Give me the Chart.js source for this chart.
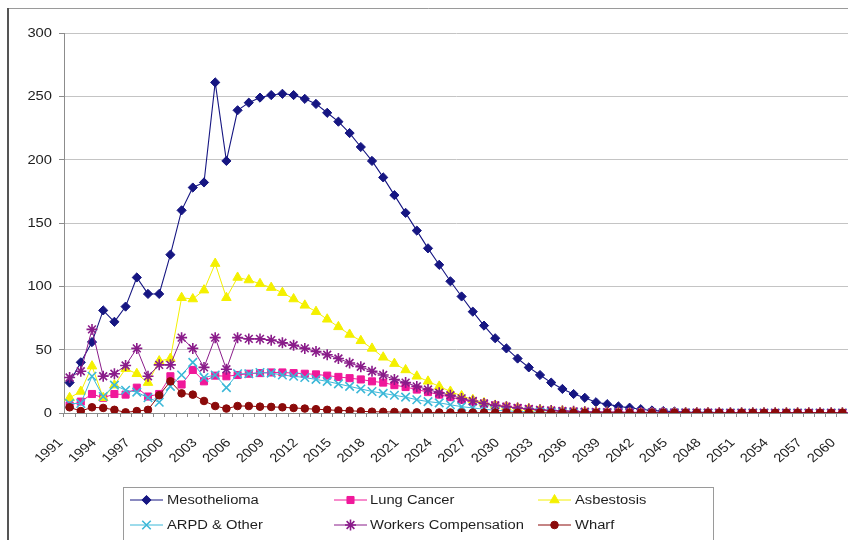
<!DOCTYPE html>
<html>
<head>
<meta charset="utf-8">
<script src="https://cdn.jsdelivr.net/npm/chart.js@4.4.1/dist/chart.umd.min.js"></script>
<style>
  html, body { margin: 0; padding: 0; background: #ffffff; overflow: hidden; }
  #wrap { position: relative; width: 848px; height: 540px; }
</style>
</head>
<body>
<div id="wrap"><canvas id="chart" width="848" height="540"></canvas></div>
<script>
// Projected claims per year, 1991 - 2060
const years = [
  '1991','1992','1993','1994','1995','1996','1997','1998','1999','2000',
  '2001','2002','2003','2004','2005','2006','2007','2008','2009','2010',
  '2011','2012','2013','2014','2015','2016','2017','2018','2019','2020',
  '2021','2022','2023','2024','2025','2026','2027','2028','2029','2030',
  '2031','2032','2033','2034','2035','2036','2037','2038','2039','2040',
  '2041','2042','2043','2044','2045','2046','2047','2048','2049','2050',
  '2051','2052','2053','2054','2055','2056','2057','2058','2059','2060'
];

const mesothelioma = [
  24, 40, 56, 81, 72, 84, 107, 94, 94, 125,
  160, 178, 182, 261, 199, 239, 245, 249, 251, 252,
  251, 248, 244, 237, 230, 221, 210, 199, 186, 172,
  158, 144, 130, 117, 104, 92, 80, 69, 59, 51,
  43, 36, 30, 24, 19, 15, 12, 8.5, 7, 5.2,
  4.2, 3, 2, 1.5, 1.2, 0.8, 0.6, 0.5, 0.4, 0.3,
  0.2, 0.2, 0.1, 0.1, 0.1, 0.1, 0, 0, 0, 0
];

const lungCancer = [
  6, 9, 15, 12, 15, 14.5, 20, 13, 15, 29,
  22.5, 34, 25, 29.5, 29, 30, 31, 31.5, 32, 32,
  31.5, 31, 30.5, 29.5, 28.5, 27.5, 26.5, 25, 24, 22,
  20.5, 18.5, 16.5, 14.5, 12.5, 10.5, 9, 7.5, 6, 5,
  3.8, 3, 2.2, 1.8, 1.4, 1.1, 0.9, 0.7, 0.6, 0.5,
  0.4, 0.4, 0.3, 0.3, 0.3, 0.2, 0.2, 0.2, 0.2, 0.1,
  0.1, 0.1, 0.1, 0.1, 0.1, 0.1, 0.1, 0.1, 0.1, 0.1
];

const asbestosis = [
  12, 17, 37, 12, 22, 35, 31, 24, 41, 43,
  91, 90, 97, 118, 91, 107, 105, 102, 99, 95,
  90, 85, 80, 74, 68, 62, 57, 51, 44, 39,
  34, 29, 25, 21, 17, 13.5, 10.5, 8, 6, 5,
  4, 3.3, 2.6, 2, 1.6, 1.2, 1, 0.8, 0.6, 0.5,
  0.4, 0.4, 0.3, 0.3, 0.2, 0.2, 0.2, 0.2, 0.1, 0.1,
  0.1, 0.1, 0.1, 0.1, 0.1, 0.1, 0.1, 0.1, 0.1, 0.1
];

const arpdOther = [
  7.5, 7.5, 29, 13, 22, 18, 16.5, 12, 8.5, 21,
  30, 40, 28, 30, 20, 31, 31, 32, 31.5, 30,
  29, 28, 26.5, 25, 23, 21, 19, 17, 15.5, 14,
  12.5, 10.5, 9, 8, 6.5, 5, 4, 3, 2.2, 1.6,
  1.2, 0.9, 0.7, 0.5, 0.4, 0.3, 0.3, 0.2, 0.2, 0.2,
  0.1, 0.1, 0.1, 0.1, 0.1, 0.1, 0, 0, 0, 0,
  0, 0, 0, 0, 0, 0, 0, 0, 0, 0
];

const workersComp = [
  28, 33, 66, 29, 31, 37.5, 51, 29, 38, 38,
  59.5, 51, 36, 59.5, 34.5, 59.5, 58.5, 58.5, 57.5, 55.5,
  53.5, 51, 48.5, 46, 43, 39.5, 36.5, 33, 30, 26.5,
  24, 21, 18.5, 16, 14, 11.5, 9.5, 7.5, 6, 5,
  4, 3.2, 2.5, 2, 1.6, 1.3, 1, 0.8, 0.6, 0.5,
  0.4, 0.4, 0.3, 0.3, 0.2, 0.2, 0.2, 0.2, 0.1, 0.1,
  0.1, 0.1, 0.1, 0.1, 0.1, 0.1, 0.1, 0.1, 0.1, 0.1
];

const wharf = [
  4.5, 1.5, 4.5, 4, 2.5, 0.5, 1.5, 2.5, 14, 25,
  15.5, 14.5, 9.5, 5.5, 3.5, 5.5, 5.5, 5, 4.8, 4.5,
  4, 3.5, 3, 2.5, 2, 1.8, 1.3, 1, 0.9, 0.8,
  0.6, 0.5, 0.5, 0.4, 0.4, 0.4, 0.3, 0.3, 0.3, 0.3,
  0.2, 0.2, 0.2, 0.2, 0.2, 0.2, 0.1, 0.1, 0.1, 0.1,
  0.1, 0.1, 0.1, 0.1, 0.1, 0.1, 0.1, 0.1, 0.1, 0.1,
  0.1, 0.1, 0.1, 0.1, 0.1, 0.1, 0.1, 0.1, 0.1, 0.1
];

const yTicks = [0, 50, 100, 150, 200, 250, 300];
const LABEL_EVERY = 3;

const FONT = "'Liberation Sans', Arial, sans-serif";
const FONT_SIZE = 12.5;
const TEXT_STRETCH = 1.18;   // wide-set lettering used throughout
const TEXT = '#1e1e1e';

function series(label, data, color, style, radius, order, lineWidth) {
  return {
    label, data,
    borderColor: color,
    backgroundColor: color,
    pointBackgroundColor: color,
    pointBorderColor: color,
    pointStyle: style,
    pointRadius: radius,
    pointHoverRadius: radius,
    pointBorderWidth: (style === 'crossRot' || style === 'star') ? 1.6 : 1,
    borderWidth: lineWidth || 1,
    tension: 0,
    fill: false,
    order
  };
}

const datasets = [
  series('Mesothelioma', mesothelioma, '#161682', 'rectRot', 4.6, 6, 1.1),
  series('Lung Cancer', lungCancer, '#f0189a', 'rect', 5, 5),
  series('Asbestosis', asbestosis, '#f4f000', 'triangle', 5.5, 4),
  series('ARPD & Other', arpdOther, '#3cb8d8', 'crossRot', 6, 3),
  series('Workers Compensation', workersComp, '#8a1c8a', 'star', 5.5, 2),
  series('Wharf', wharf, '#8b0a0a', 'circle', 3.8, 1)
];

function wideText(ctx, text, x, y, align, angle) {
  ctx.save();
  ctx.translate(x, y);
  ctx.scale(TEXT_STRETCH, 1);
  if (angle) ctx.rotate(angle);
  ctx.textAlign = align;
  ctx.fillText(text, 0, 0);
  ctx.restore();
}

// Axis labels: value ticks on the left, rotated years below
const axisLabels = {
  id: 'axisLabels',
  afterDraw(chart) {
    const ctx = chart.ctx;
    const xs = chart.scales.x;
    const ys = chart.scales.y;
    const base = chart.chartArea.bottom;
    ctx.save();
    ctx.font = FONT_SIZE + 'px ' + FONT;
    ctx.fillStyle = TEXT;
    ctx.textBaseline = 'middle';
    yTicks.forEach(v => {
      wideText(ctx, String(v), 52, ys.getPixelForValue(v) + 0.5, 'right', 0);
    });
    years.forEach((yr, i) => {
      if (i % LABEL_EVERY !== 0) return;
      const cx = xs.getPixelForValue(i);
      wideText(ctx, yr, cx - 9, base + 28, 'right', -Math.PI / 4);
    });
    ctx.restore();
  }
};

// Outer frame and boxed two-row legend
const framePlugin = {
  id: 'frameAndLegend',
  afterDraw(chart) {
    const ctx = chart.ctx;
    ctx.save();
    ctx.strokeStyle = '#9a9a9a';
    ctx.lineWidth = 1;
    ctx.beginPath();
    ctx.moveTo(8.5, 8.5); ctx.lineTo(848, 8.5);
    ctx.stroke();
    ctx.strokeStyle = '#555555';
    ctx.lineWidth = 2;
    ctx.beginPath();
    ctx.moveTo(8, 8); ctx.lineTo(8, 540);
    ctx.stroke();

    const bx = 123.5, by = 487.5, bw = 590, bh = 60;
    ctx.strokeStyle = '#9a9a9a';
    ctx.lineWidth = 1;
    ctx.strokeRect(bx, by, bw, bh);

    const samples = [130, 334, 538];
    const textX = [167, 370, 575];
    const rows = [500, 525];
    ctx.font = FONT_SIZE + 'px ' + FONT;
    ctx.textBaseline = 'middle';
    chart.data.datasets.forEach((ds, i) => {
      const sx = samples[i % 3];
      const cy = rows[Math.floor(i / 3)];
      ctx.strokeStyle = ds.borderColor;
      ctx.lineWidth = 1;
      ctx.beginPath();
      ctx.moveTo(sx, cy); ctx.lineTo(sx + 33, cy);
      ctx.stroke();
      ctx.fillStyle = ds.backgroundColor;
      ctx.strokeStyle = ds.borderColor;
      ctx.lineWidth = ds.pointBorderWidth;
      Chart.helpers.drawPoint(ctx, {
        pointStyle: ds.pointStyle,
        radius: ds.pointRadius,
        rotation: 0,
        borderWidth: ds.pointBorderWidth
      }, sx + 16.5, cy);
      ctx.fillStyle = TEXT;
      wideText(ctx, ds.label, textX[i % 3], cy + 0.5, 'left', 0);
    });
    ctx.restore();
  }
};

new Chart(document.getElementById('chart'), {
  type: 'line',
  data: { labels: years, datasets },
  options: {
    responsive: false,
    animation: false,
    devicePixelRatio: 1,
    layout: { autoPadding: false, padding: { top: 33, left: 0, right: 0, bottom: 0 } },
    plugins: {
      legend: { display: false },
      tooltip: { enabled: false }
    },
    scales: {
      x: {
        type: 'category',
        offset: true,
        grid: {
          offset: true,
          drawOnChartArea: false,
          drawTicks: true,
          tickLength: 4,
          tickColor: '#8c8c8c'
        },
        border: { color: '#8c8c8c', width: 1 },
        ticks: { display: false, autoSkip: false },
        afterFit(scale) {
          scale.height = 127;
          scale.paddingLeft = 0;
          scale.paddingRight = 0;
        }
      },
      y: {
        min: 0,
        max: 300,
        afterBuildTicks(scale) {
          scale.ticks = yTicks.map(v => ({ value: v }));
        },
        grid: {
          color: '#c4c4c4',
          lineWidth: 1,
          drawTicks: true,
          tickLength: 5,
          tickColor: '#8c8c8c'
        },
        border: { color: '#8c8c8c', width: 1 },
        ticks: { display: false },
        afterFit(scale) {
          scale.width = 64;
          scale.paddingTop = 0;
          scale.paddingBottom = 0;
        }
      }
    }
  },
  plugins: [axisLabels, framePlugin]
});
</script>
</body>
</html>
